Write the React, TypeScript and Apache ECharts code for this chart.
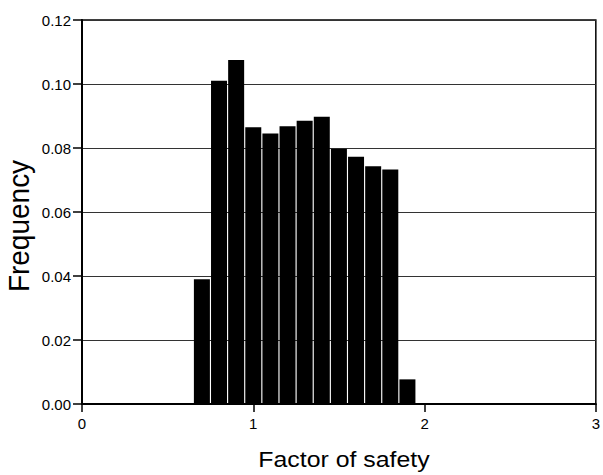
import React, { useEffect, useRef } from "react";
import * as echarts from "echarts";

const binCenters = [0.7, 0.8, 0.9, 1.0, 1.1, 1.2, 1.3, 1.4, 1.5, 1.6, 1.7, 1.8, 1.9];
const frequencies = [0.039, 0.101, 0.1075, 0.0865, 0.0845, 0.0868, 0.0885, 0.0898, 0.0798, 0.0773, 0.0743, 0.0733, 0.0077];
const xTickLabels = ["0", "1", "2", "3"];
const xTitle = "Factor of safety";
const yTitle = "Frequency";

const FONT = "'Liberation Sans', Arial, Helvetica, sans-serif";

export default function App() {
  const ref = useRef<HTMLDivElement>(null);
  useEffect(() => {
    if (!ref.current) return;
    const chart = echarts.init(ref.current, null, { renderer: "svg" });
    chart.setOption({
      animation: false,
      backgroundColor: "#fff",
      grid: {
        left: 82,
        right: 1,
        top: 20,
        bottom: 71,
        show: true,
        borderColor: "#000",
        borderWidth: 1.5,
        backgroundColor: "transparent",
      },
      xAxis: {
        type: "value",
        min: 0,
        max: 3,
        interval: 1,
        axisLine: { show: true, onZero: false, lineStyle: { color: "#000", width: 2 } },
        axisTick: { show: true, length: 8, inside: false, lineStyle: { color: "#000", width: 1.5 } },
        axisLabel: {
          show: true,
          margin: 12,
          color: "#000",
          fontSize: 15,
          fontFamily: FONT,
          showMaxLabel: true,
          formatter: (v: number) => xTickLabels[Math.round(v)] ?? String(v),
        },
        splitLine: { show: false },
      },
      yAxis: {
        type: "value",
        min: 0,
        max: 0.12,
        interval: 0.02,
        axisLine: { show: true, lineStyle: { color: "#000", width: 2 } },
        axisTick: { show: true, length: 9, inside: false, lineStyle: { color: "#000", width: 1.5 } },
        axisLabel: {
          show: true,
          margin: 11,
          color: "#000",
          fontSize: 15,
          fontFamily: FONT,
          formatter: (v: number) => v.toFixed(2),
        },
        splitLine: { show: true, lineStyle: { color: "#333", width: 1 } },
      },
      series: [
        {
          type: "bar",
          data: binCenters.map((x, i) => [x, frequencies[i]]),
          barWidth: 16,
          itemStyle: { color: "#000" },
          z: 3,
        },
      ],
      graphic: [
        {
          type: "text",
          x: 344,
          y: 460,
          scaleX: 1.13,
          style: {
            text: xTitle,
            fontSize: 22,
            fontFamily: FONT,
            fill: "#000",
            align: "center",
            verticalAlign: "middle",
          },
        },
        {
          type: "text",
          x: 19,
          y: 226,
          rotation: Math.PI / 2,
          scaleY: 1.08,
          style: {
            text: yTitle,
            fontSize: 28,
            fontFamily: FONT,
            fill: "#000",
            align: "center",
            verticalAlign: "middle",
          },
        },
      ],
    });
    return () => chart.dispose();
  }, []);
  return (
    <div
      ref={ref}
      style={{ position: "absolute", left: 0, top: 0, width: 603, height: 475 }}
    />
  );
}
